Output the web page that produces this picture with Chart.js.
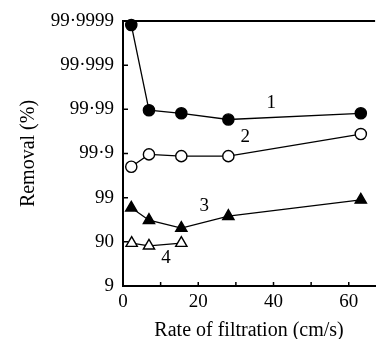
<!DOCTYPE html>
<html>
<head>
<meta charset="utf-8">
<script src="https://cdn.jsdelivr.net/npm/chart.js@4.4.0/dist/chart.umd.min.js"></script>
<style>
  html, body { margin: 0; padding: 0; background: #fff; }
  #wrap { width: 383px; height: 339px; }
</style>
</head>
<body>
<div id="wrap"><canvas id="chart" width="383" height="339"></canvas></div>
<script>
// Removal levels, equally spaced (one step per "nine")
const removalLabels = ['9', '90', '99', '99·9', '99·99', '99·999', '99·9999'];

// Rate of filtration (cm/s)
const rate1 = [2.2, 6.9, 15.5, 28.0, 63.2];
const rate4 = [2.3, 6.9, 15.5];

// Removal, as position on the nines scale (0 = 9 %, 6 = 99.9999 %)
const curve1 = [5.91, 3.98, 3.91, 3.77, 3.91];
const curve2 = [2.70, 2.98, 2.94, 2.94, 3.44];
const curve3 = [1.77, 1.49, 1.31, 1.58, 1.95];
const curve4 = [0.97, 0.91, 0.97];

// Curve numbers written beside the lines
const curveNames = ['1', '2', '3', '4'];
const nameAt = [[39.4, 4.14], [32.5, 3.37], [21.6, 1.80], [11.4, 0.63]];

const FONT = 'Liberation Serif, Times New Roman, serif';

function pts(xs, ys) {
    return xs.map((x, i) => ({ x: x, y: ys[i] }));
}

function series(label, xs, ys, style, filled) {
    return {
        label: label,
        data: pts(xs, ys),
        borderColor: '#000',
        borderWidth: 1.3,
        pointStyle: style,
        pointRadius: style === 'triangle' ? 6.5 : 5.6,
        pointBorderWidth: 1.4,
        pointBorderColor: '#000',
        pointBackgroundColor: filled ? '#000' : '#fff',
        fill: false,
        tension: 0,
        clip: false
    };
}

// Inward ticks, top border, curve numbers
const decorations = {
    id: 'decorations',
    afterDraw(chart) {
        const ctx = chart.ctx;
        const area = chart.chartArea;
        const xs = chart.scales.x, ys = chart.scales.y;
        ctx.save();
        ctx.strokeStyle = '#000';
        ctx.lineWidth = 2;
        ctx.beginPath();
        ctx.moveTo(area.left - 1, area.top);
        ctx.lineTo(area.right, area.top);
        ctx.stroke();

        ctx.lineWidth = 1.5;
        ctx.beginPath();
        for (let v = 10; v <= 60; v += 10) {
            const px = xs.getPixelForValue(v);
            ctx.moveTo(px, area.bottom);
            ctx.lineTo(px, area.bottom - 4);
        }
        for (let v = 1; v <= 5; v++) {
            const py = ys.getPixelForValue(v);
            ctx.moveTo(area.left, py);
            ctx.lineTo(area.left + 5, py);
        }
        ctx.stroke();

        ctx.fillStyle = '#000';
        ctx.font = '19px ' + FONT;
        ctx.textAlign = 'center';
        ctx.textBaseline = 'middle';
        curveNames.forEach((n, i) => {
            ctx.fillText(n, xs.getPixelForValue(nameAt[i][0]), ys.getPixelForValue(nameAt[i][1]));
        });
        ctx.restore();
    }
};

new Chart(document.getElementById('chart').getContext('2d'), {
    type: 'line',
    data: {
        datasets: [
            series('1', rate1, curve1, 'circle', true),
            series('2', rate1, curve2, 'circle', false),
            series('3', rate1, curve3, 'triangle', true),
            series('4', rate4, curve4, 'triangle', false)
        ]
    },
    options: {
        responsive: false,
        animation: false,
        layout: { padding: { top: 21, right: 0, left: 0, bottom: 0 } },
        plugins: {
            legend: { display: false },
            tooltip: { enabled: false }
        },
        scales: {
            x: {
                type: 'linear',
                min: 0,
                max: 67,
                grid: { display: false, drawTicks: false },
                border: { display: true, color: '#000', width: 2 },
                ticks: {
                    stepSize: 20,
                    includeBounds: false,
                    padding: 5,
                    color: '#000',
                    font: { family: FONT, size: 19 }
                },
                title: {
                    display: true,
                    text: 'Rate of filtration (cm/s)',
                    color: '#000',
                    font: { family: FONT, size: 20 },
                    padding: { top: 0, bottom: -4 }
                },
                afterFit(scale) { scale.height = 53; }
            },
            y: {
                type: 'linear',
                min: 0,
                max: 6,
                grid: { display: false, drawTicks: false },
                border: { display: true, color: '#000', width: 2 },
                ticks: {
                    stepSize: 1,
                    padding: 9,
                    color: '#000',
                    font: { family: FONT, size: 19 },
                    callback: (v) => removalLabels[v]
                },
                title: {
                    display: true,
                    text: 'Removal (%)',
                    color: '#000',
                    font: { family: FONT, size: 20 },
                    padding: { top: 17, bottom: 4 }
                },
                afterFit(scale) { scale.width = 123; }
            }
        }
    },
    plugins: [decorations]
});
</script>
</body>
</html>
